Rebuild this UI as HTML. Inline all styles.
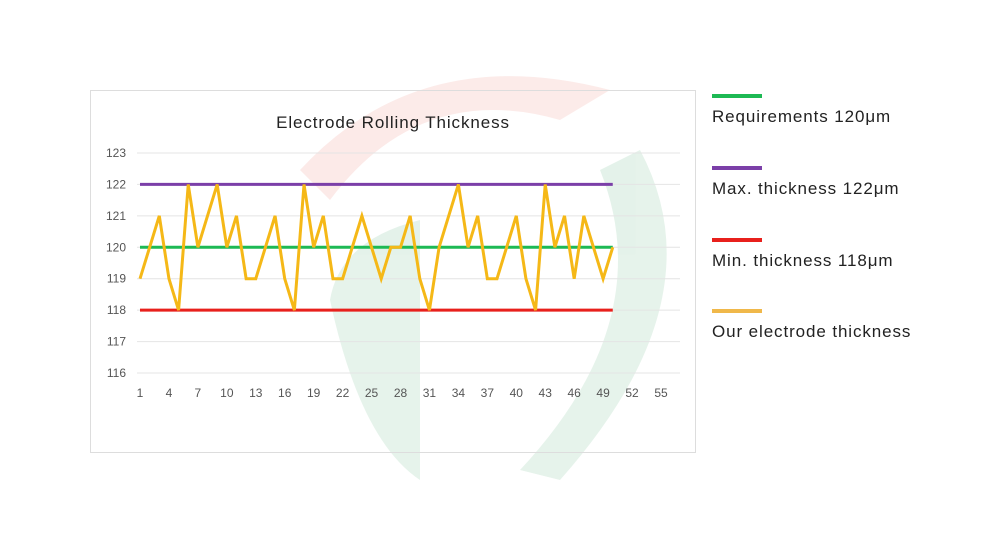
<!DOCTYPE html>
<html><head><meta charset="utf-8"><style>
body{margin:0;background:#fff;font-family:"Liberation Sans",sans-serif}
</style></head><body>
<svg width="1000" height="550" xmlns="http://www.w3.org/2000/svg">
<g opacity="0.12">
<path d="M300,170 Q420,40 610,90 L560,120 Q420,80 330,200 Z" fill="#e8574a"/>
<path d="M330,300 Q340,240 420,220 L420,480 Q360,440 330,300 Z" fill="#2e9a5a"/>
<path d="M640,150 Q720,300 560,480 L520,470 Q660,320 600,170 Z" fill="#2e9a5a"/>
</g>
<rect x="90.5" y="90.5" width="605" height="362" fill="none" stroke="#ddd"/>
<text x="393" y="128" text-anchor="middle" font-size="17" letter-spacing="0.9" fill="#222">Electrode Rolling Thickness</text>
<g id="grid"></g><g id="axes"></g><g id="series"></g>
<g font-size="17" letter-spacing="0.9" fill="#222">
<rect x="712" y="94" width="50" height="4" fill="#1db954"/>
<text x="712" y="122">Requirements 120μm</text>
<rect x="712" y="166" width="50" height="4" fill="#7b3fa8"/>
<text x="712" y="194">Max. thickness 122μm</text>
<rect x="712" y="238" width="50" height="4" fill="#e8201c"/>
<text x="712" y="266">Min. thickness 118μm</text>
<rect x="712" y="309" width="50" height="4" fill="#f0b84a"/>
<text x="712" y="337">Our electrode thickness</text>
</g>
</svg>
<script>
const yTicks=[116,117,118,119,120,121,122,123];
const xTicks=[1,4,7,10,13,16,19,22,25,28,31,34,37,40,43,46,49,52,55];
const ours=[119,120,121,119,118,122,120,121,122,120,121,119,119,120,121,119,118,122,120,121,119,119,120,121,120,119,120,120,121,119,118,120,121,122,120,121,119,119,120,121,119,118,122,120,121,119,121,120,119,120];
const req=120,maxT=122,minT=118;
const ns="http://www.w3.org/2000/svg";
const X=v=>140+(v-1)*(661-140)/54;
const Y=v=>373-(v-116)*(373-153)/7;
function mk(t,a,p){const e=document.createElementNS(ns,t);for(const k in a)e.setAttribute(k,a[k]);p.appendChild(e);return e;}
const grid=document.getElementById('grid'),axes=document.getElementById('axes'),ser=document.getElementById('series');
yTicks.forEach(v=>{const l=mk('line',{x1:137,x2:680,y1:Y(v),y2:Y(v),stroke:'#e4e4e4'},grid);


const t=mk('text',{x:126,y:Y(v)+4,'text-anchor':'end','font-size':12,fill:'#555'},axes);t.textContent=v;

});
xTicks.forEach(v=>{const t=mk('text',{x:X(v),y:397,'text-anchor':'middle','font-size':12,fill:'#555'},axes);t.textContent=v;

});
const n=ours.length;
[[req,'#1db954','requirements-line'],[maxT,'#7b3fa8','max-line'],[minT,'#e8201c','min-line']].forEach(([v,c,nm])=>{
const l=mk('line',{x1:X(1),x2:X(n),y1:Y(v),y2:Y(v),stroke:c,'stroke-width':3},ser);

});
const p=mk('polyline',{points:ours.map((v,i)=>X(i+1)+','+Y(v)).join(' '),fill:'none',stroke:'#f5b817','stroke-width':3,'stroke-linejoin':'miter'},ser);


</script>
</body></html>
